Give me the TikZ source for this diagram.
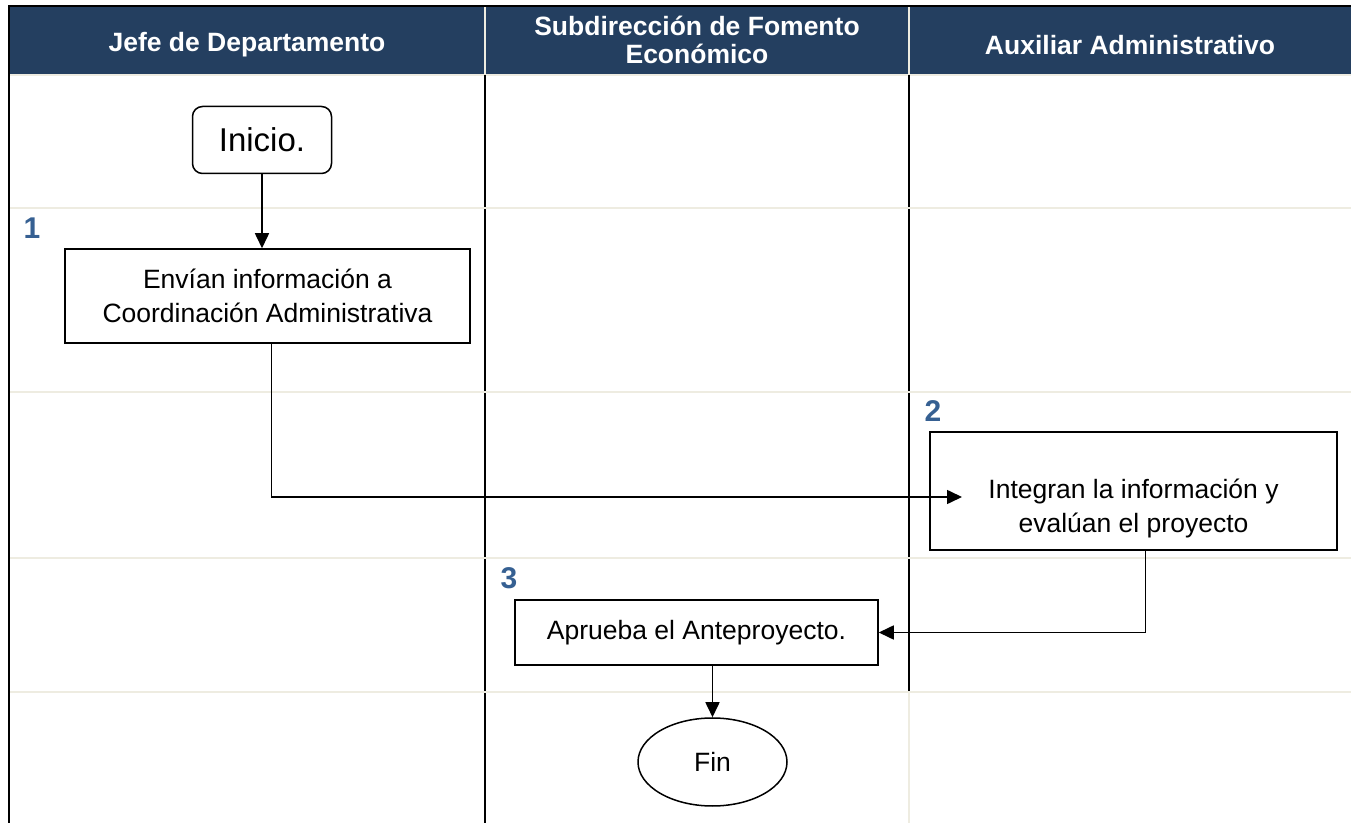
\documentclass[tikz,border=0pt]{standalone}
\usepackage{fontspec}
\setmainfont{Liberation Sans}
\usepackage{xcolor}
\usetikzlibrary{arrows.meta,positioning,shapes.geometric,calc}
\definecolor{encab}{RGB}{36,63,96}
\definecolor{azulnro}{RGB}{54,96,146}
\definecolor{beige}{RGB}{238,236,225}
\tikzset{
  blk/.style   ={draw,line width=0.75pt,align=center,inner sep=2pt,font=\fontsize{13.25}{17}\selectfont},
  paso/.style  ={blk,rectangle},
  term/.style  ={blk,rounded corners=5pt,font=\fontsize{16.5}{20}\selectfont},
  elip/.style  ={blk,ellipse,minimum width=74.5pt,minimum height=44pt,inner sep=0pt},
  enc/.style   ={text=white,align=center,font=\bfseries\fontsize{13.25}{14}\selectfont},
  nro/.style   ={text=azulnro,inner sep=0pt,font=\bfseries\fontsize{15}{15}\selectfont},
  flow/.style  ={-{Triangle[length=7.5pt,width=7pt]},line width=0.8pt},
  carril/.style={line width=1pt},
  fila/.style  ={beige,line width=1pt},
}

\begin{document}
\begin{tikzpicture}[x=0.5pt,y=-0.5pt]
  \useasboundingbox (0,0) rectangle (1351,823);
  \fill[encab] (9,7) rectangle (1351,75);
  \draw[fila] (485,7) -- (485,75) (909,7) -- (909,75) (10,75) -- (1351,75);
  \draw[carril] (8,6) -- (1351,6);
  \draw[carril] (9,6) -- (9,823) (485,75) -- (485,823) (909,75) -- (909,692);
  \draw[fila] (909,692) -- (909,823);
  \foreach \y in {208,392,558,692}
    \draw[fila] (10,\y) -- (1351,\y);
  \node[enc] (h1) at (247,45) {Jefe de Departamento};
  \node[enc] (h2) at (697,40) {Subdirección de Fomento\\Económico};
  \node[enc] (h3) at (1130,45) {Auxiliar Administrativo};
  \node[term,minimum width=69.5pt,minimum height=33.5pt] (inicio) at (262,140) {Inicio.};
  \node[nro] (n1) at (32,228) {1};
  \node[paso,minimum width=202.5pt,minimum height=47pt] (p1) at (267.5,296) {Envían información a\\Coordinación Administrativa};
  \node[nro] (n2) at (933,411) {2};
  \node[paso,minimum width=203.5pt,minimum height=59pt] (p2) at (1133.5,491) {\rule{0pt}{27pt}Integran la información y\\evalúan el proyecto};
  \node[nro] (n3) at (509,578) {3};
  \node[paso,minimum width=181.5pt,minimum height=32.5pt] (p3) at (696.5,632.5) {Aprueba el Anteproyecto.};
  \node[elip] (fin) at (712.5,762) {Fin};
  \coordinate (e2) at (962,497);
  \draw[flow] (inicio) -- (inicio |- p1.north);
  \draw[flow] ([xshift=2pt]p1.south) |- (e2);
  \draw[flow] ([xshift=6pt]p2.south) |- (p3.east);
  \draw[flow] (p3.south -| fin.north) -- (fin);
\end{tikzpicture}
\end{document}
